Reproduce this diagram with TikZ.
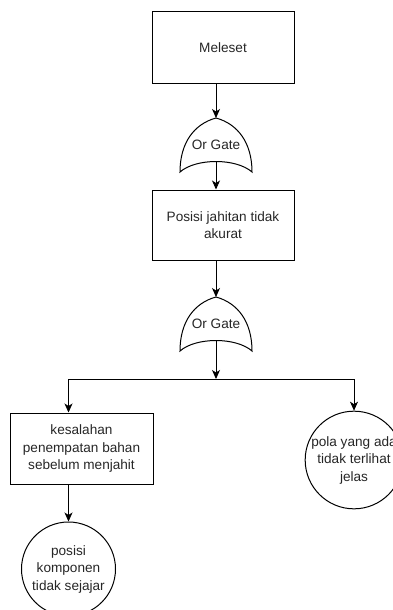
\documentclass[tikz,border=0pt]{standalone}
\usepackage{fontspec}
\setmainfont{Liberation Sans}
\usetikzlibrary{arrows.meta,calc}
\begin{document}
\begin{tikzpicture}[x=1pt,y=-1pt,
  every node/.style={font=\fontsize{13.6}{17.5}\selectfont, text=black!85, align=center, inner sep=0pt},
  box/.style={draw, line width=1pt, minimum width=142pt, minimum height=71pt},
  circ/.style={draw, circle, line width=1pt, minimum size=94pt},
  arr/.style={draw, line width=0.9pt, -{Stealth[length=9pt,width=8pt,inset=2.5pt]}},
  conn/.style={draw, line width=0.9pt},
  orgate/.pic={
    \draw[line width=1pt, fill=white] (-36,54) .. controls (-36,25) and (-22,6) .. (0,0)
      .. controls (22,6) and (36,25) .. (36,54)
      .. controls (20,40) and (-20,40) .. cycle;
    \node at (0,27) {Or Gate};
    \coordinate (-top) at (0,0);
    \coordinate (-bot) at (0,43);
  }]
\useasboundingbox (0,0) rectangle (393,610);
\clip (0,0) rectangle (393,610);

% events
\node[box] (m) at (223,47.5) {Meleset};
\pic (g1) at (216,118) {orgate};
\node[box, minimum height=70pt] (b2) at (223,225) {Posisi jahitan tidak\\akurat};
\pic (g2) at (216,297) {orgate};
\node[box, minimum width=143pt] (lb) at (81.5,448.5) {kesalahan\\penempatan bahan\\sebelum menjahit};
\node[circ] (lc) at (68.5,569) {posisi\\komponen\\tidak sejajar};
\node[circ] (rc) at (354,460) {pola yang ada\\tidak terlihat\\jelas};

% branching point below the lower gate
\coordinate (j) at (216,379);
\coordinate (jl) at (68.5,379);

% connectors
\draw[arr] (m.south -| g1-top) -- (g1-top);
\draw[arr] (g1-bot) -- (g1-bot |- b2.north);
\draw[arr] (b2.south -| g2-top) -- (g2-top);
\draw[arr] (g2-bot) -- (j);
\draw[conn] (j) -- (jl);
\draw[arr] (jl) -- (jl |- lb.north);
\draw[arr] (j) -| (rc.north);
\draw[arr] (jl |- lb.south) -- (lc.north);
\end{tikzpicture}
\end{document}
